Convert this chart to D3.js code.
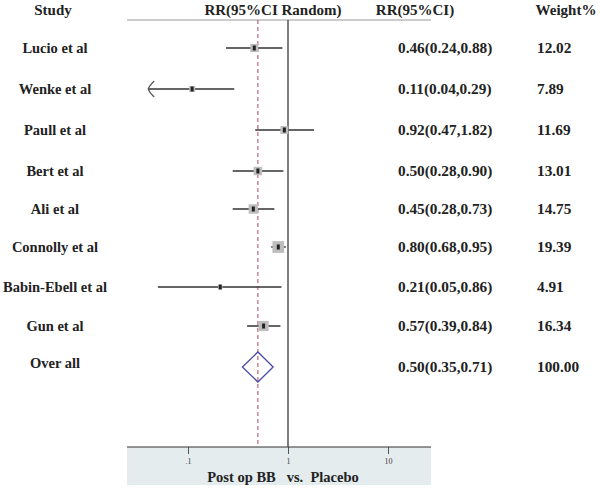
<!DOCTYPE html>
<html lang="en">
  <head>
  <title>Forest plot</title>
    <style>
      body { margin: 0; background: #fff; }
      text { font-family: 'Liberation Serif', 'Times New Roman', serif; fill: #222; }
      .lbl { font-size: 14.5px; font-weight: bold; }
      .hdr { font-size: 15px; font-weight: bold; }
      .num { font-size: 15.3px; font-weight: bold; }
      .tick text { font-size: 8px; fill: #444; }
    </style>
  </head>
  <body>
<div id="chart"></div>
    <script src="https://d3js.org/d3.v7.min.js"></script>
    <script>
    var studies = ["Lucio et al", "Wenke et al", "Paull et al", "Bert et al", "Ali et al",
                   "Connolly et al", "Babin-Ebell et al", "Gun et al"];
    var rr    = [0.46, 0.11, 0.92, 0.50, 0.45, 0.80, 0.21, 0.57];
    var lower = [0.24, 0.04, 0.47, 0.28, 0.28, 0.68, 0.05, 0.39];
    var upper = [0.88, 0.29, 1.82, 0.90, 0.73, 0.95, 0.86, 0.84];
    var weight = ["12.02", "7.89", "11.69", "13.01", "14.75", "19.39", "4.91", "16.34"];
    var overall = {rr: 0.50, lower: 0.35, upper: 0.71, weight: "100.00"};
    var tickVals = [0.1, 1, 10];
    var tickLabels = [".1", "1", "10"];

    var width = 600, height = 488;
    var svg = d3.select("#chart").append("svg")
        .attr("width", width).attr("height", height);

    // log scale, 1 at 288, 100px per decade
    var x = d3.scaleLog().domain([0.1, 10]).range([188, 388]);
    var rowY = [48, 89, 130, 171, 209, 247, 287, 326];
    var overallY = 367;
    var yPos = function(i) { return rowY[i]; };
    var box = d3.scaleLinear().domain([0, 20]).range([2, 12]);
    var axisY = 447, xMin = 0.04;

    // headers
    svg.append("text").attr("class", "hdr").attr("x", 53).attr("y", 15)
        .attr("text-anchor", "middle").text("Study");
    svg.append("text").attr("class", "hdr").attr("x", 273).attr("y", 15)
        .attr("text-anchor", "middle").text("RR(95%CI Random)");
    svg.append("text").attr("class", "hdr").attr("x", 415).attr("y", 15)
        .attr("text-anchor", "middle").text("RR(95%CI)");
    svg.append("text").attr("class", "hdr").attr("x", 566).attr("y", 15)
        .attr("text-anchor", "middle").text("Weight%");
    svg.append("line").attr("x1", 127).attr("x2", 431).attr("y1", 20).attr("y2", 20)
        .attr("stroke", "#999").attr("stroke-width", 1);

    // bottom panel
    svg.append("rect").attr("x", 127).attr("y", axisY).attr("width", 304).attr("height", 38)
        .attr("fill", "#e4eced");
    var axis = svg.append("g").attr("transform", "translate(0," + axisY + ")")
        .call(d3.axisBottom(x).tickValues(tickVals).tickSize(7).tickPadding(4)
          .tickFormat(function(d, i) { return tickLabels[i]; }));
    axis.select(".domain").remove();
    axis.selectAll(".tick line").attr("stroke", "#555");
    svg.append("line").attr("x1", 127).attr("x2", 431).attr("y1", axisY).attr("y2", axisY)
        .attr("stroke", "#333").attr("stroke-width", 1.2);
    svg.append("text").attr("class", "lbl").attr("x", 283).attr("y", 482)
        .attr("text-anchor", "middle").attr("xml:space", "preserve")
        .text("Post op BB   vs.  Placebo");

    // null line and overall line
    svg.append("line").attr("x1", x(1)).attr("x2", x(1)).attr("y1", 20).attr("y2", axisY)
        .attr("stroke", "#555").attr("stroke-width", 1.5);
    svg.append("line").attr("x1", x(overall.rr)).attr("x2", x(overall.rr)).attr("y1", 20).attr("y2", axisY)
        .attr("stroke", "#b5465a").attr("stroke-width", 1).attr("stroke-dasharray", "4,3");

    // study rows
    var rows = svg.append("g").selectAll("g").data(studies).enter().append("g");
    rows.append("text").attr("class", "lbl")
        .attr("x", 55).attr("y", function(d, i) { return yPos(i) + 5; })
        .attr("text-anchor", "middle").text(function(d) { return d; });
    rows.append("line")
        .attr("x1", function(d, i) { return x(Math.max(lower[i], xMin)); })
        .attr("x2", function(d, i) { return x(upper[i]); })
        .attr("y1", function(d, i) { return yPos(i); })
        .attr("y2", function(d, i) { return yPos(i); })
        .attr("stroke", "#333").attr("stroke-width", 1.5);
    rows.append("rect")
        .attr("x", function(d, i) { return x(rr[i]) - box(+weight[i]) / 2; })
        .attr("y", function(d, i) { return yPos(i) - box(+weight[i]) / 2; })
        .attr("width", function(d, i) { return box(+weight[i]); })
        .attr("height", function(d, i) { return box(+weight[i]); })
        .attr("fill", "#bdbdbd");
    rows.append("rect")
        .attr("x", function(d, i) { return x(rr[i]) - 1.5; })
        .attr("y", function(d, i) { return yPos(i) - 2.5; })
        .attr("width", 3).attr("height", 5).attr("fill", "#222");
    rows.append("text").attr("class", "num")
        .attr("x", 398).attr("y", function(d, i) { return yPos(i) + 5; })
        .text(function(d, i) { return rr[i].toFixed(2) + "(" + lower[i].toFixed(2) + "," + upper[i].toFixed(2) + ")"; });
    rows.append("text").attr("class", "num")
        .attr("x", 537).attr("y", function(d, i) { return yPos(i) + 5; })
        .text(function(d, i) { return weight[i]; });

    // arrow for truncated CI
    studies.forEach(function(d, i) {
      if (lower[i] <= xMin) {
        var ax = x(xMin), ay = yPos(i);
        svg.append("path")
          .attr("d", "M" + (ax + 6) + "," + (ay - 8) + " Q" + (ax + 1) + "," + (ay - 3) + " " + ax + "," + ay +
                     " Q" + (ax + 1) + "," + (ay + 3) + " " + (ax + 6) + "," + (ay + 8))
          .attr("fill", "none").attr("stroke", "#555").attr("stroke-width", 1.2);
      }
    });

    // overall diamond
    svg.append("text").attr("class", "lbl").attr("x", 55).attr("y", overallY + 1)
        .attr("text-anchor", "middle").text("Over all");
    svg.append("path")
        .attr("d", "M" + x(overall.lower) + "," + overallY +
                   " L" + x(overall.rr) + "," + (overallY - 15) +
                   " L" + x(overall.upper) + "," + overallY +
                   " L" + x(overall.rr) + "," + (overallY + 15) + " Z")
        .attr("fill", "none").attr("stroke", "#4a4aa6").attr("stroke-width", 1.3);
    svg.append("text").attr("class", "num").attr("x", 398).attr("y", overallY + 5)
        .text(overall.rr.toFixed(2) + "(" + overall.lower.toFixed(2) + "," + overall.upper.toFixed(2) + ")");
    svg.append("text").attr("class", "num").attr("x", 537).attr("y", overallY + 5)
        .text(overall.weight);
    </script>
  </body>
</html>
